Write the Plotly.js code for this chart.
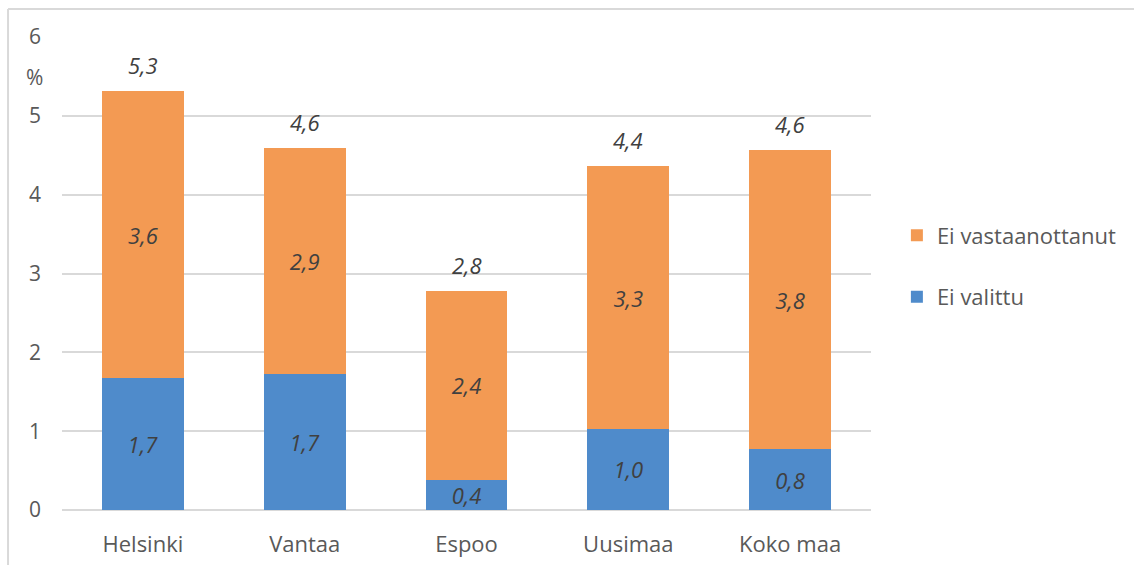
<!DOCTYPE html>
<html>
<head>
<meta charset="utf-8">
<script src="https://cdn.plot.ly/plotly-3.0.1.min.js"></script>
<style>html,body{margin:0;padding:0;background:#fff;}#chart{width:1134px;height:565px;}</style>
</head>
<body>
<div id="chart"></div>
<script>
const categories = ["Helsinki", "Vantaa", "Espoo", "Uusimaa", "Koko maa"];
const eiValittu = [1.67, 1.72, 0.38, 1.03, 0.77];
const eiVastaanottanut = [3.64, 2.87, 2.40, 3.33, 3.80];
const yTicks = [0, 1, 2, 3, 4, 5, 6];
const seriesNames = ["Ei valittu", "Ei vastaanottanut"];

const totals = eiValittu.map((v, i) => v + eiVastaanottanut[i]);
const FONT = "'Open Sans', sans-serif";
const labelFont = {family: FONT, size: 22, color: "#404040", style: "italic"};

const traces = [
  {
    type: "bar", name: seriesNames[0], x: categories, y: eiValittu,
    marker: {color: "#4F8BCB"},
    texttemplate: "%{y:.1f}", textposition: "inside", insidetextanchor: "middle",
    textangle: 0, constraintext: "none", textfont: labelFont,
    legendgroup: "a", legendrank: 2, hoverinfo: "skip"
  },
  {
    type: "bar", name: seriesNames[1], x: categories, y: eiVastaanottanut,
    marker: {color: "#F39A53"},
    texttemplate: "%{y:.1f}", textposition: "inside", insidetextanchor: "middle",
    textangle: 0, constraintext: "none", textfont: labelFont,
    legendgroup: "b", legendrank: 1, hoverinfo: "skip"
  }
];

const annotations = categories.map((c, i) => ({
  x: c, y: totals[i], xref: "x", yref: "y",
  text: totals[i].toFixed(1).replace(".", ","),
  showarrow: false, yanchor: "middle", yshift: 26,
  font: labelFont
}));
annotations.push({
  x: 0, y: 6, xref: "paper", yref: "y", text: "%",
  showarrow: false, xanchor: "right", yanchor: "middle",
  xshift: -17, yshift: -40,
  font: {family: FONT, size: 21, color: "#595959"}
});

const layout = {
  width: 1134, height: 565,
  margin: {l: 62, r: 263, t: 37, b: 55, pad: 0},
  paper_bgcolor: "#fff", plot_bgcolor: "#fff",
  separators: ", ",
  barmode: "stack", bargap: 0.495,
  font: {family: FONT, size: 21, color: "#595959"},
  xaxis: {
    type: "category", showgrid: false, zeroline: false, showline: false,
    ticks: "", ticklabelstandoff: 19,
    tickfont: {family: FONT, size: 22, color: "#595959"}
  },
  yaxis: {
    range: [0, 6], tickvals: yTicks, ticktext: yTicks.map(String),
    showgrid: true, gridcolor: "#D9D9D9", gridwidth: 2,
    zeroline: true, zerolinecolor: "#D9D9D9", zerolinewidth: 2,
    showline: false, ticks: "", ticklabelstandoff: 20,
    tickfont: {family: FONT, size: 21, color: "#595959"}
  },
  showlegend: true,
  legend: {
    x: 1.032, xanchor: "left", y: 0.625, yanchor: "top",
    traceorder: "grouped", tracegroupgap: 30,
    font: {family: FONT, size: 22, color: "#595959"},
    bgcolor: "rgba(0,0,0,0)"
  },
  annotations: annotations,
  shapes: [
    {type: "line", xref: "paper", yref: "paper", x0: -0.0667, x1: 1.4, y0: 1.059, y1: 1.059,
     line: {color: "#D9D9D9", width: 2}},
    {type: "line", xref: "paper", yref: "paper", x0: -0.0667, x1: -0.0667, y0: 1.059, y1: -0.2,
     line: {color: "#D9D9D9", width: 2}}
  ]
};

Plotly.newPlot("chart", traces, layout, {displayModeBar: false, staticPlot: true});
</script>
</body>
</html>
